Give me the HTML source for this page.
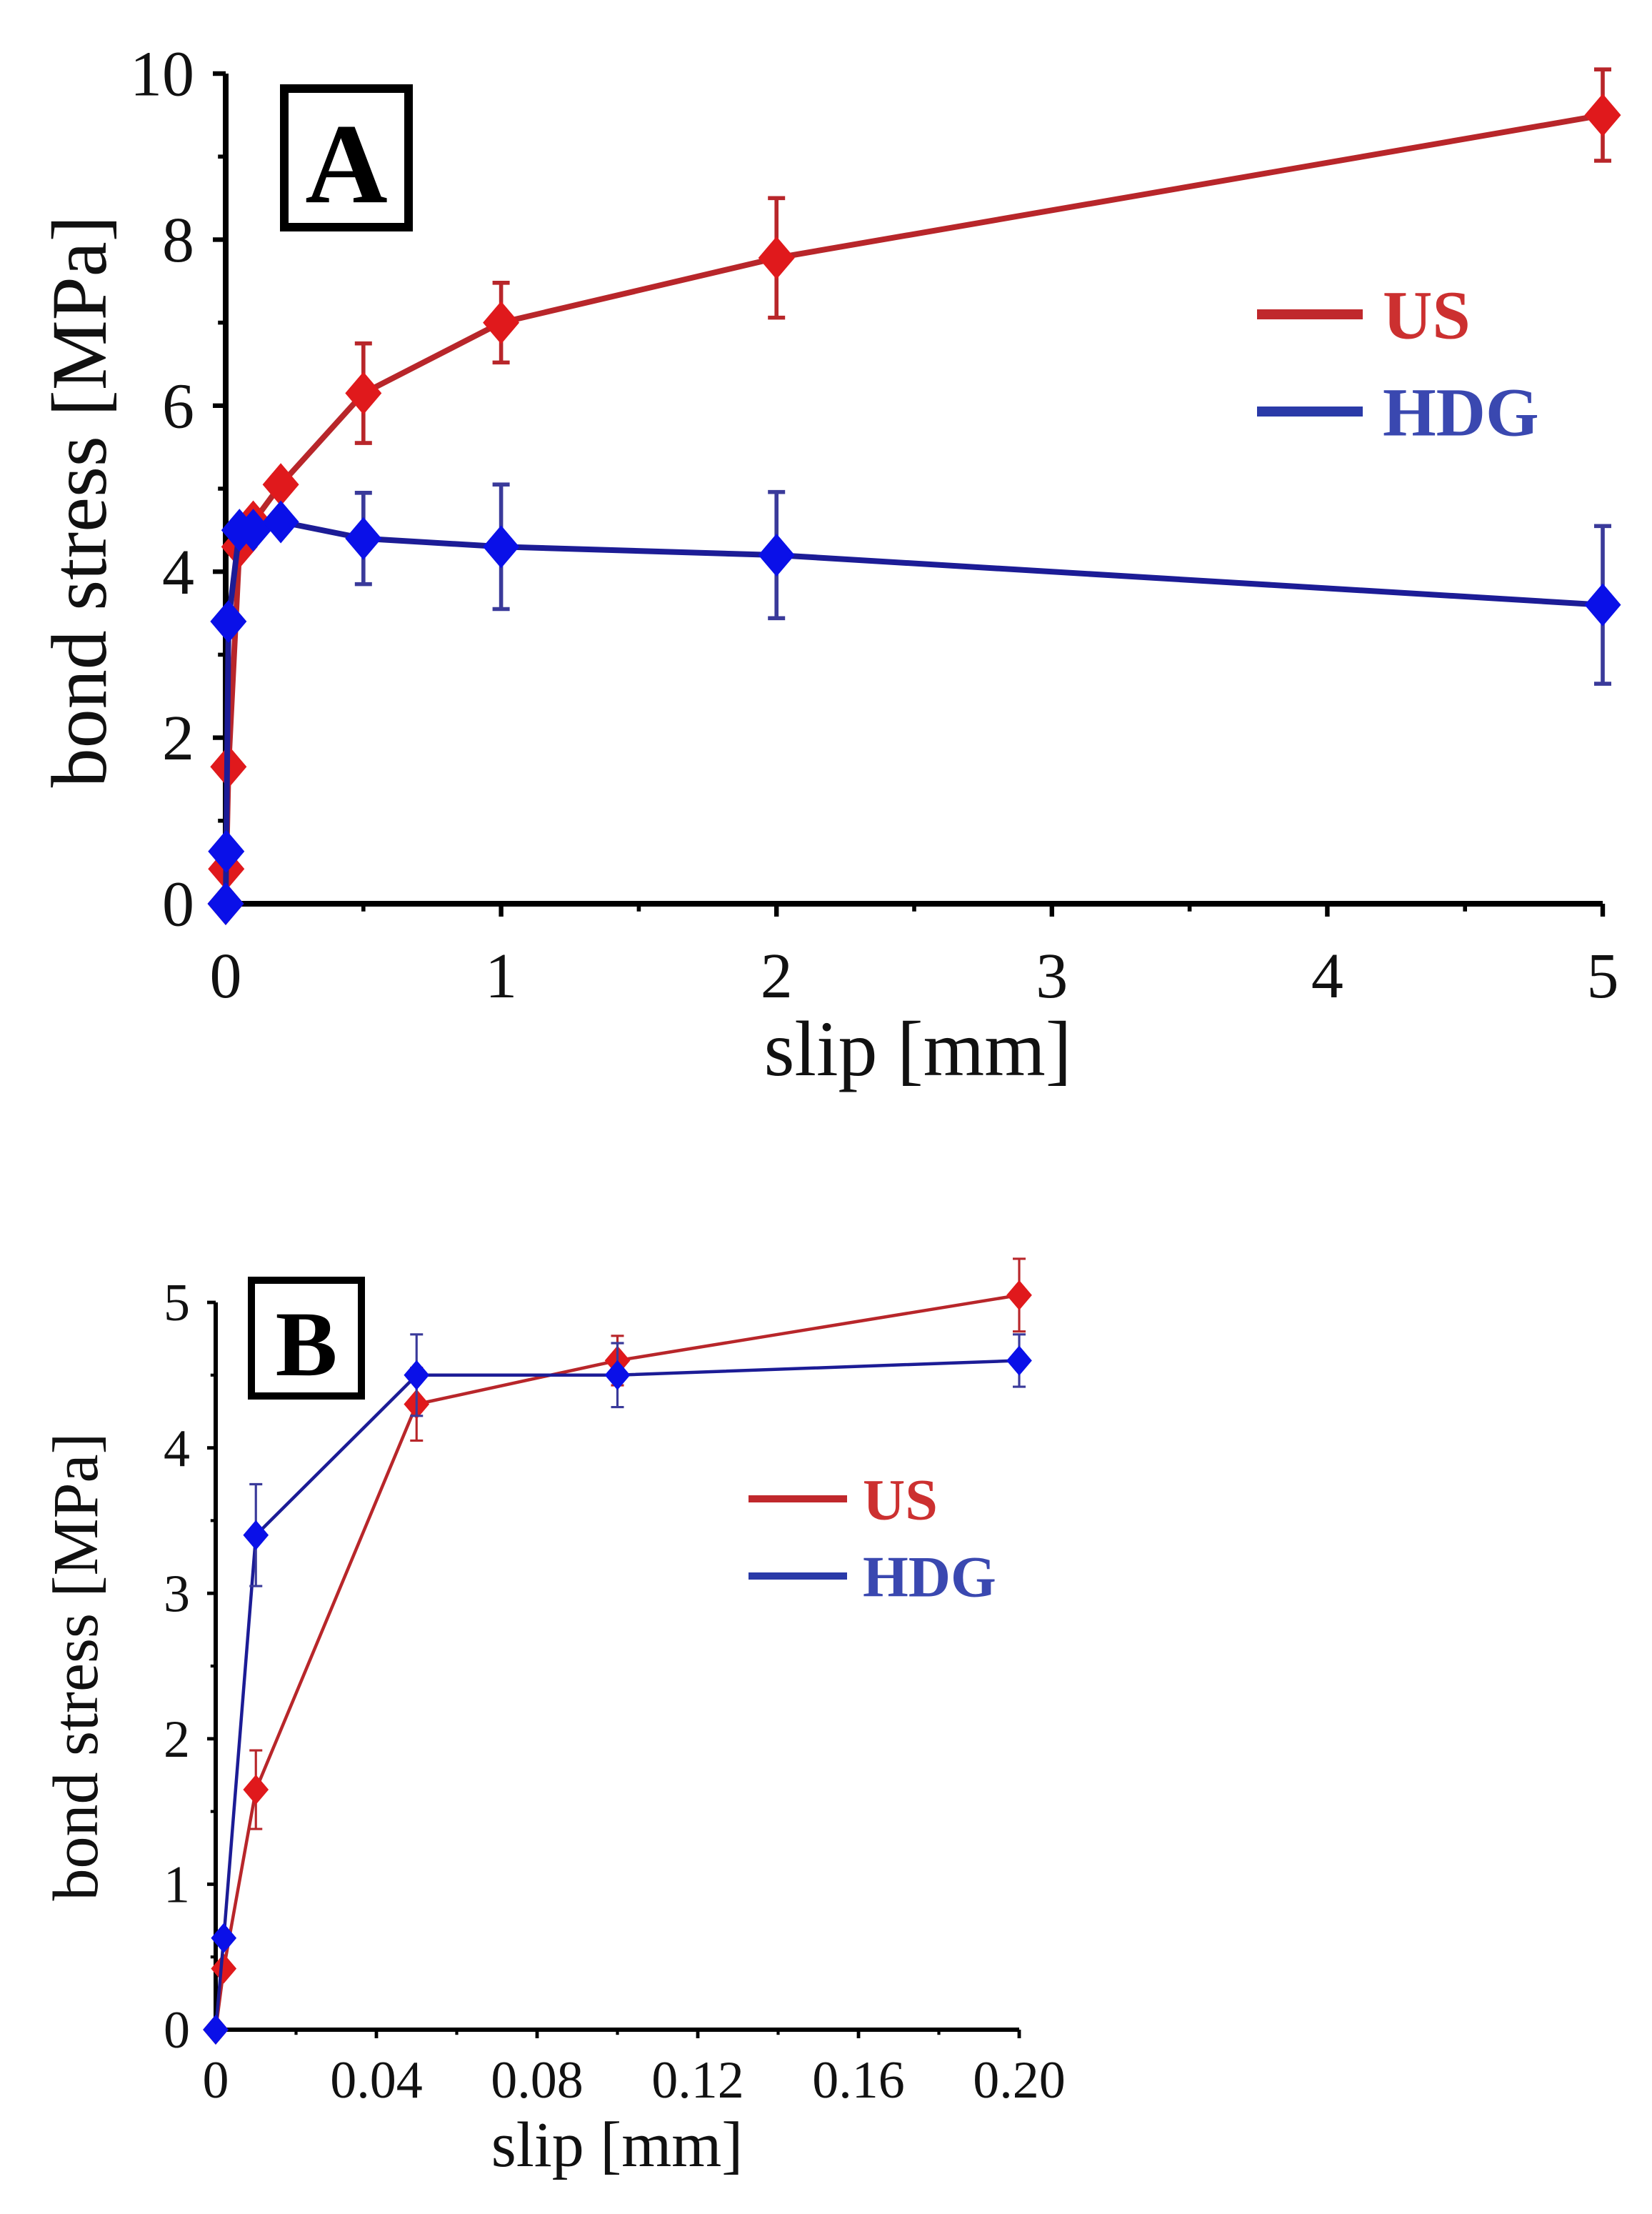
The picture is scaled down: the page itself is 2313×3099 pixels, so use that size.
<!DOCTYPE html>
<html><head><meta charset="utf-8"><style>
html,body{margin:0;padding:0;background:#fff;}
svg{display:block;font-family:"Liberation Serif",serif;}
</style></head><body>
<svg id="fig" width="2313" height="3099" viewBox="0 0 2313 3099" xmlns="http://www.w3.org/2000/svg">
<rect width="2313" height="3099" fill="#fff"/>
</svg>
<script>
const xA = [0,0.002,0.01,0.05,0.1,0.2,0.5,1,2,5];
const usA = [0,0.42,1.65,4.3,4.6,5.05,6.15,7.0,7.78,9.5];
const usAerr = [0,0,0,0,0,0,0.6,0.48,0.72,0.55];
const hdgA = [0,0.63,3.4,4.5,4.5,4.6,4.4,4.3,4.2,3.6];
const hdgAerr = [0,0,0,0,0,0,0.55,0.75,0.76,0.95];
const xTicksA = [0,1,2,3,4,5];
const yTicksA = [0,2,4,6,8,10];

const xB = [0,0.002,0.01,0.05,0.1,0.2];
const usB = [0,0.42,1.65,4.3,4.6,5.05];
const usBerr = [0,0,0.27,0.25,0.17,0.25];
const hdgB = [0,0.63,3.4,4.5,4.5,4.6];
const hdgBerr = [0,0,0.35,0.28,0.22,0.18];
const xTicksB = ["0","0.04","0.08","0.12","0.16","0.20"];
const yTicksB = [0,1,2,3,4,5];

const NS="http://www.w3.org/2000/svg";
const svg=document.getElementById('fig');
function el(tag,attrs,parent,text){const e=document.createElementNS(NS,tag);for(const k in attrs)e.setAttribute(k,attrs[k]);if(text!==undefined)e.textContent=text;(parent||svg).appendChild(e);return e;}

function drawChart(o){
  const g=el('g',{});
  
  
  const sx=v=>o.x0+(v-o.xmin)/(o.xmax-o.xmin)*(o.x1-o.x0);
  const sy=v=>o.y0-(v-o.ymin)/(o.ymax-o.ymin)*(o.y0-o.y1);
  const ya=el('line',{x1:o.x0,y1:o.y0,x2:o.x0,y2:o.y1,stroke:'#000','stroke-width':o.aw},g);
  
  
  const xa=el('line',{x1:o.x0-o.aw/2,y1:o.y0,x2:o.x1,y2:o.y0,stroke:'#000','stroke-width':o.aw},g);
  
  
  o.yTicks.forEach((t,i)=>{
    const y=sy(t);
    el('line',{x1:o.x0-o.tl,y1:y,x2:o.x0,y2:y,stroke:'#000','stroke-width':o.aw*0.8},g);
    if(i<o.yTicks.length-1){const ym=sy((t+o.yTicks[i+1])/2);el('line',{x1:o.x0-o.tl*0.6,y1:ym,x2:o.x0,y2:ym,stroke:'#000','stroke-width':o.aw*0.7},g);}
    const tx=el('text',{x:o.ylx,y:y+o.fs*0.34,'font-size':o.fs,'text-anchor':'end',fill:'#111'},g,String(t));
    
    
  });
  o.xTickVals.forEach((t,i)=>{
    const x=sx(t);
    el('line',{x1:x,y1:o.y0,x2:x,y2:o.y0+o.tl,stroke:'#000','stroke-width':o.aw*0.8},g);
    if(i<o.xTickVals.length-1){const xm=sx((t+o.xTickVals[i+1])/2);el('line',{x1:xm,y1:o.y0,x2:xm,y2:o.y0+o.tl*0.6,stroke:'#000','stroke-width':o.aw*0.7},g);}
    const tx=el('text',{x:x,y:o.xly,'font-size':o.fs,'text-anchor':'middle',fill:'#111'},g,o.xTickLabels[i]);
    
    
  });
  const xt=el('text',{x:o.xtx,y:o.xty,'font-size':o.tfs,'text-anchor':'middle',fill:'#111'},g,'slip [mm]');
  
  
  const yt=el('text',{x:0,y:0,'font-size':o.tfs,'text-anchor':'middle',fill:'#111',transform:`translate(${o.ytx},${o.yty}) rotate(-90)`},g,'bond stress [MPa]');
  
  
  const bx=el('rect',{x:o.box[0],y:o.box[1],width:o.box[2],height:o.box[3],fill:'#fff',stroke:'#000','stroke-width':o.bw},g);
  
  
  const bl=el('text',{x:o.box[0]+o.box[2]/2,y:o.box[1]+o.box[3]*0.82,'font-size':o.lfs,'font-weight':'bold','text-anchor':'middle',fill:'#000'},g,o.label);
  
  
  const series=[
    {n:'us',ys:o.us,err:o.usErr,line:'#b8262a',mark:'#e0191c',eb:'#b8262a'},
    {n:'hdg',ys:o.hdg,err:o.hdgErr,line:'#1c1c96',mark:'#0a10e8',eb:'#3a3a9a'}
  ];
  series.forEach(s=>{
    const pts=o.xs.map((x,i)=>sx(x).toFixed(1)+','+sy(s.ys[i]).toFixed(1)).join(' ');
    const pl=el('polyline',{points:pts,fill:'none',stroke:s.line,'stroke-width':o.lw,'stroke-linejoin':'round'},g);
    
    
    o.xs.forEach((x,i)=>{
      const cx=sx(x),cy=sy(s.ys[i]),e=s.err[i];
      if(e>0){
        const ebar=el('path',{d:`M${cx},${sy(s.ys[i]+e)}V${sy(s.ys[i]-e)}M${cx-o.cap},${sy(s.ys[i]+e)}h${2*o.cap}M${cx-o.cap},${sy(s.ys[i]-e)}h${2*o.cap}`,stroke:s.eb,'stroke-width':o.lw*0.7,fill:'none'},g);
        
        
      }
      const m=o.ms;
      const mk=el('polygon',{points:`${cx},${cy-m} ${cx+m*0.85},${cy} ${cx},${cy+m} ${cx-m*0.85},${cy}`,fill:s.mark},g);
      
      
    });
  });
  const items=[['US','#c0282c','#cc3030'],['HDG','#2a3aa8','#3a48b0']];
  items.forEach((it,i)=>{
    const y=o.leg[1]+i*o.leg[4];
    const ll=el('line',{x1:o.leg[0],y1:y,x2:o.leg[0]+o.leg[2],y2:y,stroke:it[1],'stroke-width':o.leg[5]},g);
    
    
    const lt=el('text',{x:o.leg[0]+o.leg[2]+o.leg[6],y:y+o.leg[3]*0.35,'font-size':o.leg[3],'font-weight':'bold',fill:it[2]},g,it[0]);
    
    
  });
}

drawChart({name:'chart-a',label:'A',xmin:0,xmax:5,ymin:0,ymax:10,x0:316,x1:2244,y0:1265,y1:103,
  xs:xA,us:usA,usErr:usAerr,hdg:hdgA,hdgErr:hdgAerr,yTicks:yTicksA,xTickVals:xTicksA,xTickLabels:xTicksA.map(String),
  aw:8,tl:18,fs:90,ylx:272,xly:1396,tfs:110,xtx:1285,xty:1505,ytx:148,yty:702,box:[398,124,174,194],bw:12,lfs:160,
  lw:8,ms:30,cap:12,leg:[1760,440,148,96,136,14,28]});
drawChart({name:'chart-b',label:'B',xmin:0,xmax:0.2,ymin:0,ymax:5,x0:302,x1:1427,y0:2841,y1:1823,
  xs:xB,us:usB,usErr:usBerr,hdg:hdgB,hdgErr:hdgBerr,yTicks:yTicksB,xTickVals:[0,0.04,0.08,0.12,0.16,0.2],xTickLabels:xTicksB,
  aw:6,tl:12,fs:74,ylx:266,xly:2936,tfs:90,xtx:864,xty:3032,ytx:136,yty:2333,box:[352,1792,154,162],bw:10,lfs:130,
  lw:4.5,ms:21,cap:9,leg:[1048,2098,138,82,108,10,22]});
</script>
</body></html>
